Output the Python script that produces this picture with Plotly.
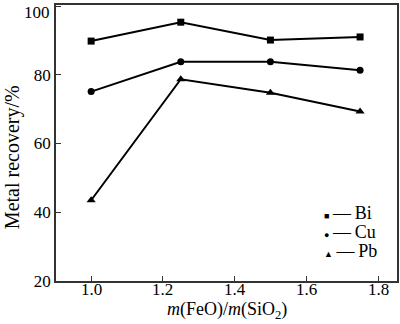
import plotly.graph_objects as go

ratio = [1.0, 1.25, 1.5, 1.75]
bi = [89.8, 95.3, 90.1, 91.0]
cu = [75.1, 83.8, 83.8, 81.3]
pb = [43.5, 78.7, 74.8, 69.3]

x_ticks = [1.0, 1.2, 1.4, 1.6, 1.8]
y_ticks = [20, 40, 60, 80, 100]

FONT = "Liberation Serif, Times New Roman, serif"

fig = go.Figure()
series = [("Bi", bi, "square", 7), ("Cu", cu, "circle", 7), ("Pb", pb, "triangle-up", 8)]
for name, vals, sym, sz in series:
    fig.add_trace(go.Scatter(
        x=ratio, y=vals, name=name, mode="lines+markers",
        line=dict(color="black", width=2),
        marker=dict(symbol=sym, size=sz, color="black"),
        showlegend=False,
    ))

# legend drawn as text rows inside the plot area
glyphs = {"Bi": "■", "Cu": "●", "Pb": "▲"}
for i, (name, _, _, _) in enumerate(series):
    fig.add_annotation(
        xref="paper", yref="paper", x=0.78, y=0.246 - i * 0.0688,
        xanchor="left", yanchor="middle", showarrow=False,
        text=f"<span style='font-size:9px'>{glyphs[name]}</span>\u2009—\u2009{name}",
        font=dict(family=FONT, size=18, color="black"),
    )

tick_font = dict(family=FONT, size=17, color="black")
axis_common = dict(
    showline=True, linecolor="#333", linewidth=1.5, mirror=True,
    ticks="inside", ticklen=5, tickwidth=1.2, tickcolor="#333",
    showgrid=False, zeroline=False, tickfont=tick_font,
)

# x tick labels are written as annotations so they can sit close to the axis
fig.update_xaxes(
    range=[0.902, 1.853], tickvals=x_ticks, showticklabels=False,
    **axis_common,
)
for v in x_ticks:
    fig.add_annotation(
        xref="x", yref="paper", x=v, y=-0.031, xanchor="center", yanchor="middle",
        showarrow=False, text=f"{v:.1f}", font=tick_font,
    )

# the top label sits at the very edge of the page, so it is written as an
# annotation nudged just below its tick
top_tick = y_ticks[-1]
fig.update_yaxes(
    range=[20, 100.3], tickvals=y_ticks,
    ticktext=[str(v) if v != top_tick else "" for v in y_ticks],
    **axis_common,
)
fig.add_annotation(
    xref="paper", yref="y", x=0, y=top_tick, xanchor="right", yanchor="middle",
    xshift=-4, yshift=-6, showarrow=False, text=str(top_tick), font=tick_font,
)

# axis titles
fig.add_annotation(
    xref="paper", yref="paper", x=-0.128, y=0.45,
    xanchor="center", yanchor="middle", textangle=-90, showarrow=False,
    text="Metal recovery/%", font=dict(family=FONT, size=20, color="black"),
)
fig.add_annotation(
    xref="paper", yref="paper", x=0.5, y=-0.108,
    xanchor="center", yanchor="middle", showarrow=False,
    text="<i>m</i>(FeO)/<i>m</i>(SiO<sub>2</sub>)",
    font=dict(family=FONT, size=18, color="black"),
)

fig.update_layout(
    width=400, height=324,
    margin=dict(l=56, r=1, t=5, b=43),
    paper_bgcolor="white", plot_bgcolor="white",
)

fig.write_html("out.html")
